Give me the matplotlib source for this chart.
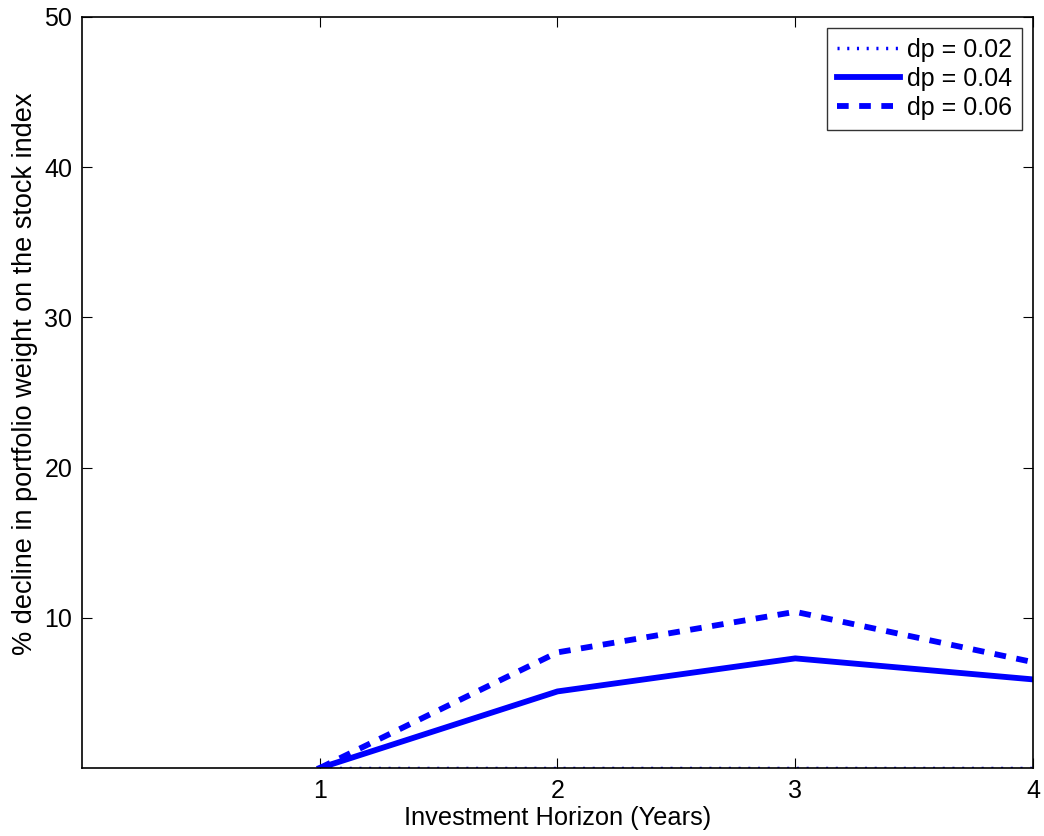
import matplotlib
matplotlib.use('Agg')
import matplotlib.pyplot as plt

plt.rcParams['font.family'] = ['Liberation Sans', 'DejaVu Sans']

# горизонт инвестирования, лет
horizon = [1, 2, 3, 4]
dp_002 = [0.0, 0.0, 0.0, 0.0]
dp_004 = [0.0, 5.1, 7.3, 5.9]
dp_006 = [0.0, 7.7, 10.4, 7.05]
labels = ['dp = 0.02', 'dp = 0.04', 'dp = 0.06']

fig = plt.figure(figsize=(10.44, 8.36), dpi=100)
ax = fig.add_axes([0.0785, 0.0813, 0.911, 0.8984])

ax.plot(horizon, dp_002, color='blue', linestyle=(0, (0.6, 2.2)), linewidth=2.5, label=labels[0])
ax.plot(horizon, dp_004, color='blue', linestyle='-', linewidth=4.2, label=labels[1])
ax.plot(horizon, dp_006, color='blue', linestyle=(0, (2.0, 1.8)), linewidth=4.2, label=labels[2])

ax.set_xlim(0, 4)
ax.set_ylim(0, 50)
ax.set_xticks([1, 2, 3, 4])
ax.set_yticks([10, 20, 30, 40, 50])
ax.tick_params(direction='in', length=7, labelsize=18, top=True, right=True, width=0.8)
ax.tick_params(axis='x', pad=8)
ax.tick_params(axis='y', pad=7)
for s in ax.spines.values():
    s.set_linewidth(1.2)

ax.set_xlabel('Investment Horizon (Years)', fontsize=18.3)
ax.xaxis.set_label_coords(0.5, -0.051)
ax.set_ylabel('% decline in portfolio weight on the stock index', fontsize=19.5)
ax.yaxis.set_label_coords(-0.046, 0.525)

leg = ax.legend(loc='upper right', fontsize=18, frameon=True, fancybox=False,
                edgecolor='black', handlelength=2.55, handletextpad=0.25,
                borderpad=0.4, labelspacing=0.2, borderaxespad=0.45)
leg.get_frame().set_linewidth(1.0)

plt.savefig('out.png', dpi=100)
